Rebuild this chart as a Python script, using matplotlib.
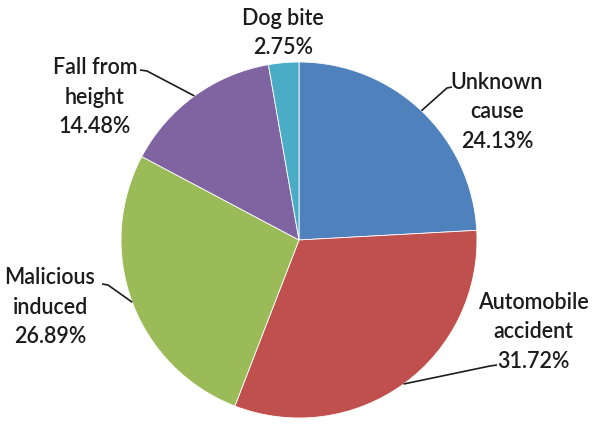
import numpy as np
import matplotlib
matplotlib.use("Agg")
import matplotlib.pyplot as plt

# Share of injury causes
categories = ["Unknown\ncause", "Automobile\naccident", "Malicious\ninduced",
              "Fall from\nheight", "Dog bite"]
values = [24.13, 31.72, 26.89, 14.48, 2.75]
colors = ["#4F81BD", "#C0504D", "#9BBB59", "#8064A2", "#4BACC6"]

# Label placement (figure pixels, y downward) and leader-line elbows
label_xy = [(497, 112), (533, 332), (50, 307), (95, 97), (283, 33)]
elbow_xy = [(447, 88), (490, 366), (108, 285), (147, 71), None]
hook_xy = [(452, 87), (497, 365), (102, 284), (140, 70), None]

W, H = 592, 426
fig = plt.figure(figsize=(W / 100, H / 100), dpi=100)
ax = fig.add_axes([0, 0, 1, 1])

cx, cy, r = 299, H - 240, 178
wedges, _ = ax.pie(values, colors=colors, startangle=90, counterclock=False,
                   center=(cx, cy), radius=r, frame=True,
                   wedgeprops=dict(edgecolor="white", linewidth=0.6))
ax.set_xlim(0, W)
ax.set_ylim(0, H)
ax.set_aspect("equal")
ax.axis("off")

txt_color = "#1c1c1c"
for w, cat, val, (lx, ly), el, hk in zip(wedges, categories, values,
                                          label_xy, elbow_xy, hook_xy):
    ax.text(lx, H - ly, f"{cat}\n{val:.2f}%", ha="center", va="center",
            fontsize=15.5, color=txt_color, linespacing=1.5,
            fontweight="semibold", family=["Lato", "DejaVu Sans"])
    if el is None:
        continue
    mid = np.deg2rad((w.theta1 + w.theta2) / 2)
    px, py = cx + r * np.cos(mid), cy + r * np.sin(mid)
    ax.plot([px, el[0], hk[0]], [py, H - el[1], H - hk[1]],
            color=txt_color, linewidth=1.2, solid_capstyle="butt")

fig.savefig("out.png", dpi=100, facecolor="white")
